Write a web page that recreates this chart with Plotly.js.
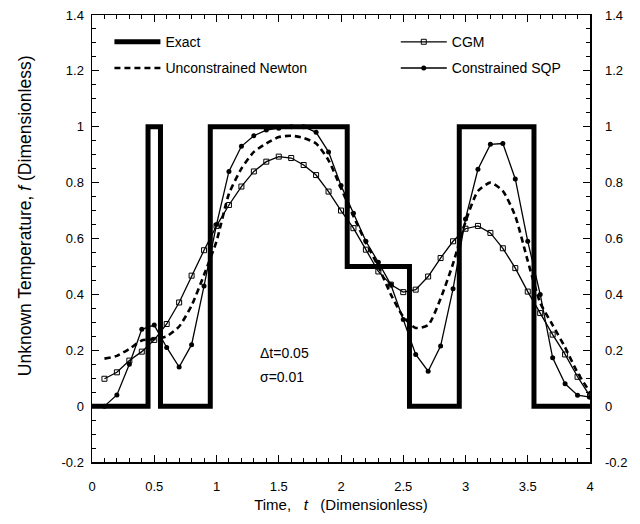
<!DOCTYPE html>
<html>
<head>
<meta charset="utf-8">
<script src="https://cdn.plot.ly/plotly-3.0.1.min.js"></script>
<style>html,body{margin:0;padding:0;background:#fff;}#chart{width:640px;height:524px;}</style>
</head>
<body>
<div id="chart"></div>
<script>
// ---- data ----
const exactT = [0, 0.45, 0.55, 0.95, 2.05, 2.55, 2.95, 3.55, 4];
const exactF = [0, 1, 0, 1, 0.5, 0, 1, 0, 0];

const timeT = [0.1,0.2,0.3,0.4,0.5,0.6,0.7,0.8,0.9,1.0,
               1.1,1.2,1.3,1.4,1.5,1.6,1.7,1.8,1.9,2.0,
               2.1,2.2,2.3,2.4,2.5,2.6,2.7,2.8,2.9,3.0,
               3.1,3.2,3.3,3.4,3.5,3.6,3.7,3.8,3.9,4.0];

const cgmF = [0.098,0.121,0.163,0.195,0.237,0.294,0.371,0.467,0.558,0.645,
              0.72,0.786,0.84,0.875,0.893,0.888,0.863,0.827,0.768,0.70,
              0.637,0.56,0.482,0.435,0.408,0.417,0.464,0.53,0.59,0.635,
              0.645,0.62,0.565,0.494,0.41,0.333,0.256,0.185,0.105,0.036];

const newtonF = [0.17,0.18,0.205,0.235,0.24,0.25,0.285,0.36,0.47,0.59,
                 0.76,0.85,0.91,0.94,0.963,0.968,0.96,0.94,0.88,0.78,
                 0.68,0.585,0.50,0.40,0.32,0.28,0.29,0.385,0.51,0.66,
                 0.77,0.80,0.77,0.68,0.52,0.37,0.29,0.21,0.12,0.05];

const sqpF = [0.0,0.04,0.15,0.275,0.29,0.21,0.14,0.22,0.43,0.65,
              0.84,0.93,0.968,0.988,0.995,1.0,1.0,0.98,0.91,0.79,
              0.69,0.59,0.515,0.435,0.31,0.185,0.125,0.215,0.42,0.67,
              0.848,0.937,0.94,0.813,0.59,0.40,0.173,0.08,0.039,0.032];

const xTickVals = [0,0.5,1,1.5,2,2.5,3,3.5,4];
const xTickText = ['0','0.5','1','1.5','2','2.5','3','3.5','4'];
const yTickVals = [-0.2,0,0.2,0.4,0.6,0.8,1,1.2,1.4];
const yTickText = ['-0.2','0','0.2','0.4','0.6','0.8','1','1.2','1.4'];

const seriesNames = ['Exact','CGM','Unconstrained Newton','Constrained SQP'];
const noteLines = ['\u0394t=0.05','\u03c3=0.01'];

// ---- chart ----
const FONT = 'Liberation Sans, Arial, sans-serif';
const traces = [
  {x: exactT, y: exactF, name: seriesNames[0], mode: 'lines', legend: 'legend', legendgroup: 'a',
   line: {color: '#000', width: 5, shape: 'hv'}},
  {x: timeT, y: cgmF, name: seriesNames[1], mode: 'lines+markers', legend: 'legend2', legendgroup: 'b',
   line: {color: '#000', width: 1.3},
   marker: {symbol: 'square-open', size: 5, color: '#000', line: {width: 1}}},
  {x: timeT, y: newtonF, name: seriesNames[2], mode: 'lines', legend: 'legend', legendgroup: 'c',
   line: {color: '#000', width: 2.6, dash: '6px,4px', shape: 'spline', smoothing: 0.6}},
  {x: timeT, y: sqpF, name: seriesNames[3], mode: 'lines+markers', legend: 'legend2', legendgroup: 'd',
   line: {color: '#000', width: 1.3},
   marker: {symbol: 'circle', size: 5, color: '#000'}},
  // invisible trace to activate right axis
  {x: [0], y: [0], yaxis: 'y2', mode: 'markers', marker: {opacity: 0},
   showlegend: false, hoverinfo: 'skip'}
];

const axisCommon = {
  showgrid: false, zeroline: false, showline: true, linecolor: '#000', linewidth: 1.5,
  ticks: 'inside', ticklen: 7, tickwidth: 1, tickcolor: '#000',
  tickfont: {family: FONT, size: 13, color: '#000'}
};

const legendCommon = {
  orientation: 'v', yanchor: 'top', xanchor: 'left', y: 0.975,
  itemwidth: 46, bgcolor: 'rgba(0,0,0,0)',
  font: {family: FONT, size: 14, color: '#000'},
  tracegroupgap: 5, traceorder: 'grouped'
};

const layout = {
  width: 640, height: 524,
  margin: {l: 92, r: 50, t: 15, b: 62},
  paper_bgcolor: '#fff', plot_bgcolor: '#fff',
  font: {family: FONT, color: '#000'},
  showlegend: true,
  legend: Object.assign({}, legendCommon, {x: 0.035}),
  legend2: Object.assign({}, legendCommon, {x: 0.61}),
  xaxis: Object.assign({}, axisCommon, {
    range: [0, 4], tickvals: xTickVals, ticktext: xTickText,
    mirror: 'ticks', ticklabelstandoff: 12,
    minor: {dtick: 0.1, ticks: 'inside', ticklen: 4, tickcolor: '#000', tickwidth: 1},
    title: {text: 'Time,   <i>t</i>   (Dimensionless)', font: {family: FONT, size: 15, color: '#000'}, standoff: 6}
  }),
  yaxis: Object.assign({}, axisCommon, {
    range: [-0.2, 1.4], tickvals: yTickVals, ticktext: yTickText,
    mirror: 'ticks', ticklabelstandoff: 4,
    minor: {dtick: 0.05, ticks: 'inside', ticklen: 4, tickcolor: '#000', tickwidth: 1}
  }),
  yaxis2: Object.assign({}, axisCommon, {
    range: [-0.2, 1.4], tickvals: yTickVals, ticktext: yTickText,
    overlaying: 'y', side: 'right', ticklabelstandoff: 14, showline: false, ticks: ''
  }),
  annotations: [
    {x: -0.1345, y: 0.55, xref: 'paper', yref: 'paper', xanchor: 'center', yanchor: 'middle',
     textangle: -90, showarrow: false,
     text: 'Unknown Temperature, <i>f</i> (Dimensionless)',
     font: {family: FONT, size: 17.5, color: '#000'}},
    {x: 1.55, y: 0.19, xref: 'x', yref: 'y', text: noteLines[0], showarrow: false,
     font: {family: FONT, size: 14, color: '#000'}},
    {x: 1.53, y: 0.105, xref: 'x', yref: 'y', text: noteLines[1], showarrow: false,
     font: {family: FONT, size: 14, color: '#000'}}
  ]
};

Plotly.newPlot('chart', traces, layout, {staticPlot: true, displayModeBar: false});
</script>
</body>
</html>
